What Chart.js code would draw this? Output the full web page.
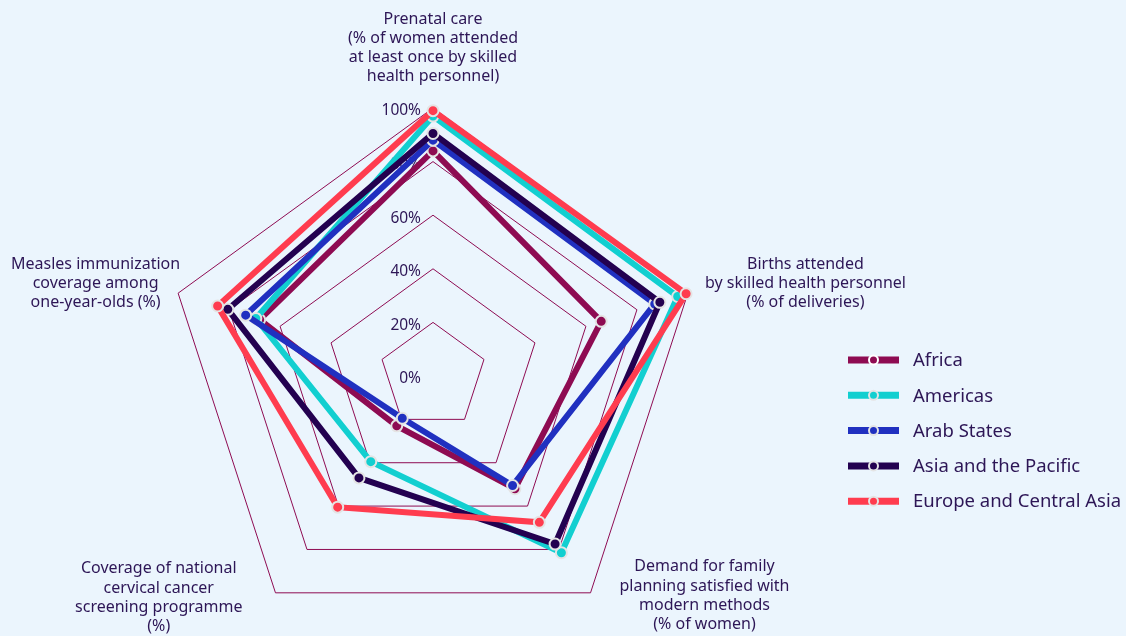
<!DOCTYPE html>
<html>
<head>
<meta charset="utf-8">
<script src="https://cdn.jsdelivr.net/npm/chart.js@4.4.1/dist/chart.umd.min.js"></script>
<style>
  html, body { margin: 0; padding: 0; background: #ebf5fd; overflow: hidden; }
  #wrap { width: 1126px; height: 660px; }
</style>
</head>
<body>
<div id="wrap"><canvas id="radar" width="1126" height="660"></canvas></div>
<script>
const axisLabels = [
    ['Prenatal care', '(% of women attended', 'at least once by skilled', 'health personnel)'],
    ['Births attended', 'by skilled health personnel', '(% of deliveries)'],
    ['Demand for family', 'planning satisfied with', 'modern methods', '(% of women)'],
    ['Coverage of national', 'cervical cancer', 'screening programme', '(%)'],
    ['Measles immunization', 'coverage among', 'one-year-olds (%)']
];
const regions = ['Africa', 'Americas', 'Arab States', 'Asia and the Pacific', 'Europe and Central Asia'];
const africa = [84, 66, 52, 23, 68];
const americas = [97, 96, 81.5, 39.5, 69.5];
const arabStates = [88, 87, 50.5, 19.5, 73.5];
const asiaPacific = [90.5, 89, 77.5, 47, 80.5];
const europeCentralAsia = [99, 99.3, 67.5, 60.5, 84.5];
const tickValues = [0, 20, 40, 60, 80, 100];
const tickLabels = ['0%', '20%', '40%', '60%', '80%', '100%'];

const colors = ['#8e0b52', '#12cfd0', '#2030c0', '#230150', '#ff3c4f'];
const seriesValues = [africa, americas, arabStates, asiaPacific, europeCentralAsia];
const textColor = '#2d1656';
const ringColor = '#e4e4e4';
const font = '"Noto Sans", sans-serif';

// where each axis title sits relative to its outer vertex
const labelPlacement = [
    { side: 'center', dx: 0, dy: -89 },
    { side: 'left', dx: 17, dy: -29 },
    { side: 'left', dx: 29, dy: -26 },
    { side: 'right', dx: -33, dy: -24 },
    { side: 'right', dx: 2, dy: -29 }
];
const lineHeight = 19.3;

const tickLabelPlugin = {
    id: 'tickLabels',
    beforeDatasetsDraw(chart) {
        const scale = chart.scales.r;
        const ctx = chart.ctx;
        ctx.save();
        ctx.font = '15.5px ' + font;
        ctx.fillStyle = textColor;
        ctx.textAlign = 'right';
        ctx.textBaseline = 'middle';
        tickValues.forEach((v, i) => {
            const r = scale.getDistanceFromCenterForValue(v);
            ctx.fillText(tickLabels[i], scale.xCenter - 12, scale.yCenter - r + 3);
        });
        ctx.restore();
    }
};

const axisTitlePlugin = {
    id: 'axisTitles',
    afterDraw(chart) {
        const scale = chart.scales.r;
        const ctx = chart.ctx;
        ctx.save();
        ctx.font = '16px ' + font;
        ctx.fillStyle = textColor;
        ctx.textAlign = 'center';
        ctx.textBaseline = 'middle';
        axisLabels.forEach((lines, i) => {
            const p = scale.getPointPosition(i, scale.drawingArea);
            const pl = labelPlacement[i];
            const w = Math.max(...lines.map(l => ctx.measureText(l).width));
            let cx = p.x + pl.dx;
            if (pl.side === 'left') cx += w / 2;
            if (pl.side === 'right') cx -= w / 2;
            lines.forEach((line, j) => {
                ctx.fillText(line, cx, p.y + pl.dy + j * lineHeight);
            });
        });
        ctx.restore();
    }
};

const legendPlugin = {
    id: 'sideLegend',
    afterDraw(chart) {
        const ctx = chart.ctx;
        ctx.save();
        ctx.font = '18.5px ' + font;
        ctx.textBaseline = 'middle';
        ctx.textAlign = 'left';
        chart.data.datasets.forEach((ds, i) => {
            const y = 360 + i * 35.3;
            ctx.strokeStyle = ds.borderColor;
            ctx.lineWidth = 7;
            ctx.beginPath();
            ctx.moveTo(848, y);
            ctx.lineTo(899, y);
            ctx.stroke();
            ctx.beginPath();
            ctx.arc(873.5, y, 4.5, 0, Math.PI * 2);
            ctx.fillStyle = ds.borderColor;
            ctx.fill();
            ctx.lineWidth = 2;
            ctx.strokeStyle = i === 0 ? '#ffffff' : ringColor;
            ctx.stroke();
            ctx.fillStyle = textColor;
            ctx.fillText(ds.label, 913, y + 1);
        });
        ctx.restore();
    }
};

Chart.defaults.font.family = font;

let myChart = new Chart(document.getElementById('radar'), {
    type: 'radar',
    data: {
        labels: axisLabels,
        datasets: regions.map((name, i) => ({
            label: name,
            data: seriesValues[i],
            borderColor: colors[i],
            backgroundColor: colors[i],
            borderWidth: 6,
            fill: false,
            tension: 0,
            pointRadius: 5.5,
            pointBorderWidth: 2,
            pointBorderColor: ringColor,
            pointBackgroundColor: colors[i],
            order: regions.length - i
        }))
    },
    options: {
        responsive: false,
        animation: false,
        events: [],
        layout: {
            padding: { left: 165, right: 425, top: 108, bottom: 16 }
        },
        scales: {
            r: {
                min: 0,
                max: 100,
                ticks: { display: false, stepSize: 20 },
                pointLabels: { display: false },
                angleLines: { display: false },
                grid: { color: '#8e0b52', lineWidth: 1 }
            }
        },
        plugins: {
            legend: { display: false },
            tooltip: { enabled: false }
        }
    },
    plugins: [tickLabelPlugin, axisTitlePlugin, legendPlugin]
});
</script>
</body>
</html>
